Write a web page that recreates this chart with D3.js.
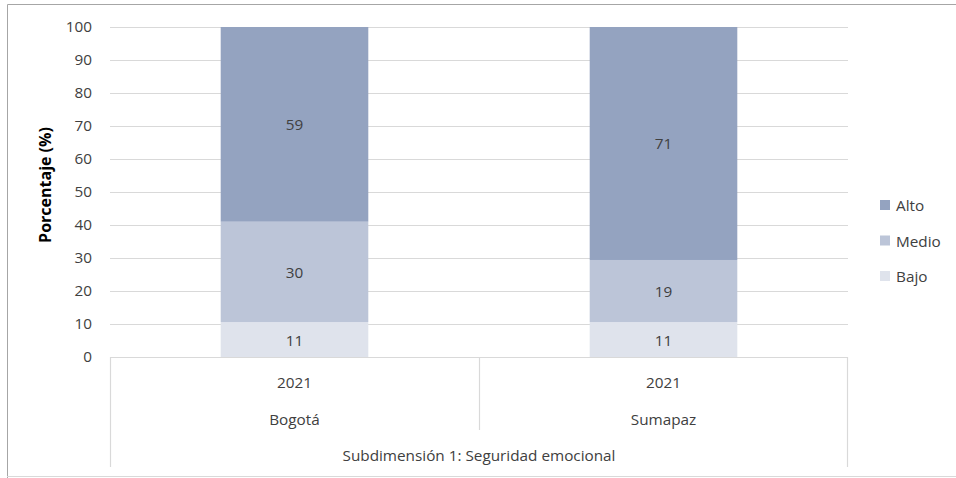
<!DOCTYPE html>
<html><head><meta charset="utf-8">
<script src="https://cdn.jsdelivr.net/npm/d3@7"></script>
<style>body{margin:0;background:#fff}svg{display:block;font-family:"Open Sans",sans-serif}</style>
</head><body><svg id="c" width="956" height="478"></svg>
<script>
const regions = ["Bogotá", "Sumapaz"];
const years = ["2021", "2021"];
const groupLabel = "Subdimensión 1: Seguridad emocional";
const seriesNames = ["Bajo", "Medio", "Alto"];
const bajo = [10.6, 10.6];
const medio = [30.4, 18.8];
const alto = [59.0, 70.6];
const yTicks = [0, 10, 20, 30, 40, 50, 60, 70, 80, 90, 100];
const colors = {Bajo: "#dfe3ec", Medio: "#bcc5d8", Alto: "#94a3c0"};

const FS = 15.3;
const FF = "Open Sans";
const TXT = "#404040";
const svg = d3.select("#c");
const m = {l: 110, r: 848, t: 27, b: 357};
const x = d3.scaleBand().domain(regions).range([m.l, m.r]).paddingInner(0).paddingOuter(0);
const y = d3.scaleLinear().domain([0, 100]).range([m.b, m.t]);
const barW = x.bandwidth() * 0.4;

// outer border
svg.append("path").attr("d", "M7.5,478 L7.5,4.5 L956,4.5").attr("fill", "none").attr("stroke", "#a6a6a6");
svg.append("line").attr("x1", 7).attr("x2", 956).attr("y1", 476.5).attr("y2", 476.5).attr("stroke", "#d9d9d9");

// gridlines
svg.append("g").selectAll("line").data(yTicks.filter(d => d > 0)).join("line")
  .attr("x1", m.l).attr("x2", m.r).attr("y1", d => y(d) + 0.5).attr("y2", d => y(d) + 0.5)
  .attr("stroke", "#d9d9d9").attr("stroke-width", 1.2);

// y axis labels
const ya = svg.append("g").attr("transform", `translate(${m.l},0)`)
  .call(d3.axisLeft(y).tickValues(yTicks).tickSize(0).tickPadding(18));
ya.select(".domain").remove();
ya.selectAll("text").attr("font-family", FF).attr("font-size", FS).attr("fill", TXT);

svg.append("text").attr("transform", "translate(51,185) rotate(-90)").attr("text-anchor", "middle")
  .attr("font-family", FF).attr("font-size", 16).attr("font-weight", "bold").attr("fill", "#000").text("Porcentaje (%)");

// stacked bars
const data = regions.map((r, i) => ({region: r, Bajo: bajo[i], Medio: medio[i], Alto: alto[i]}));
const stack = d3.stack().keys(seriesNames)(data);
const g = svg.append("g");
stack.forEach(s => {
  s.forEach(d => {
    const cx = x(d.data.region) + x.bandwidth() / 2;
    g.append("rect").attr("x", cx - barW / 2).attr("width", barW)
      .attr("y", y(d[1])).attr("height", y(d[0]) - y(d[1])).attr("fill", colors[s.key]);
    g.append("text").attr("x", cx).attr("y", (y(d[0]) + y(d[1])) / 2 + 6).attr("text-anchor", "middle")
      .attr("font-family", FF).attr("font-size", FS).attr("fill", TXT).text(Math.round(d.data[s.key]));
  });
});

// category axis box
const ax = svg.append("g").attr("stroke", "#d9d9d9").attr("stroke-width", 1.2);
ax.append("line").attr("x1", m.l).attr("x2", m.r).attr("y1", m.b + 0.5).attr("y2", m.b + 0.5);
ax.append("line").attr("x1", m.l + 0.5).attr("x2", m.l + 0.5).attr("y1", m.b).attr("y2", 467);
ax.append("line").attr("x1", m.r - 0.5).attr("x2", m.r - 0.5).attr("y1", m.b).attr("y2", 467);
ax.append("line").attr("x1", x(regions[1]) + 0.5).attr("x2", x(regions[1]) + 0.5).attr("y1", m.b).attr("y2", 430);

regions.forEach((r, i) => {
  const cx = x(r) + x.bandwidth() / 2;
  svg.append("text").attr("x", cx).attr("y", 388).attr("text-anchor", "middle").attr("font-family", FF).attr("font-size", FS).attr("fill", TXT).text(years[i]);
  svg.append("text").attr("x", cx).attr("y", 425).attr("text-anchor", "middle").attr("font-family", FF).attr("font-size", FS).attr("fill", TXT).text(r);
});
svg.append("text").attr("x", (m.l + m.r) / 2).attr("y", 461).attr("text-anchor", "middle").attr("font-family", FF).attr("font-size", FS).attr("fill", TXT).text(groupLabel);

// legend
const legendOrder = ["Alto", "Medio", "Bajo"];
const lg = svg.append("g");
legendOrder.forEach((k, i) => {
  const ly = 205 + i * 35.5;
  lg.append("rect").attr("x", 880).attr("y", ly - 5).attr("width", 10).attr("height", 10).attr("fill", colors[k]);
  lg.append("text").attr("x", 896).attr("y", ly + 6).attr("font-family", FF).attr("font-size", FS).attr("fill", TXT).text(k);
});
</script></body></html>
